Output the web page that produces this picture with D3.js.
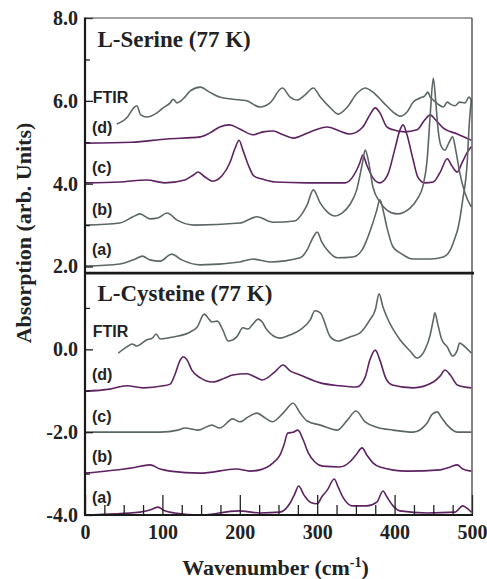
<!DOCTYPE html>
<html>
<head>
<meta charset="utf-8">
<script src="https://cdn.jsdelivr.net/npm/d3@7"></script>
<style>
  body { margin: 0; background: #fff; }
</style>
</head>
<body>
<div id="chart"></div>
<script>

// spectra: [wavenumber (cm-1), absorption]
var serineFTIR = [[41,5.44],[54,5.59],[63,5.83],[67,5.88],[72,5.66],[80,5.61],[93,5.71],[101,5.83],[110,5.95],[114,6.04],[119,5.95],[129,6.09],[136,6.24],[149,6.33],[161,6.21],[174,6.09],[191,6.04],[209,6.00],[226,5.85],[239,5.95],[255,6.31],[265,6.09],[274,6.02],[284,6.14],[295,6.31],[304,6.09],[317,5.83],[327,5.68],[339,5.85],[351,6.17],[362,6.31],[372,6.21],[385,5.97],[398,5.73],[407,5.63],[416,5.73],[424,5.97],[433,6.07],[439,6.12],[443,6.21],[446,6.09],[450,6.02],[456,5.92],[463,5.85],[468,5.97],[472,5.92],[478,5.88],[484,5.97],[491,5.95],[496,6.09],[499,6.02]];
var serineD = [[0,4.98],[60,5.00],[106,5.08],[149,5.13],[161,5.22],[174,5.37],[187,5.42],[200,5.32],[217,5.18],[230,5.25],[243,5.27],[256,5.18],[269,5.10],[291,5.25],[313,5.37],[329,5.27],[342,5.20],[359,5.37],[368,5.66],[375,5.83],[381,5.71],[390,5.37],[398,5.30],[413,5.25],[429,5.30],[439,5.54],[446,5.66],[453,5.54],[463,5.34],[481,5.20],[499,5.05]];
var serineC = [[0,4.02],[45,4.04],[80,4.09],[103,4.02],[129,4.09],[140,4.21],[146,4.28],[155,4.16],[165,4.06],[177,4.19],[187,4.50],[194,4.86],[199,5.05],[204,4.81],[211,4.45],[218,4.19],[229,4.11],[245,4.04],[287,4.02],[336,4.02],[345,4.14],[351,4.33],[355,4.50],[359,4.69],[364,4.45],[372,4.14],[381,4.02],[391,4.21],[400,4.81],[407,5.30],[411,5.42],[416,5.18],[424,4.57],[430,4.16],[439,4.02],[450,4.04],[459,4.28],[468,4.60],[474,4.43],[481,4.28],[487,4.50],[494,4.76],[499,4.89]];
var serineB = [[0,3.00],[45,3.05],[62,3.20],[71,3.27],[84,3.15],[94,3.17],[106,3.29],[119,3.12],[142,3.00],[200,3.05],[222,3.20],[243,3.07],[271,3.10],[282,3.32],[287,3.49],[295,3.85],[304,3.53],[313,3.32],[323,3.22],[332,3.29],[342,3.49],[351,3.85],[358,4.45],[362,4.81],[366,4.57],[372,3.92],[381,3.56],[390,3.36],[403,3.27],[420,3.41],[430,3.65],[437,3.97],[442,4.57],[446,5.66],[450,6.55],[453,6.02],[456,5.34],[460,4.91],[465,4.81],[470,4.98],[475,5.13],[479,4.81],[484,4.28],[491,3.77],[499,3.44]];
var serineA = [[0,2.01],[45,2.06],[65,2.18],[74,2.25],[84,2.16],[97,2.13],[112,2.30],[125,2.16],[149,2.04],[200,2.11],[217,2.18],[239,2.11],[278,2.21],[287,2.40],[293,2.64],[300,2.83],[306,2.59],[313,2.40],[326,2.21],[346,2.23],[358,2.40],[364,2.64],[371,3.00],[377,3.36],[381,3.61],[386,3.29],[390,2.95],[398,2.47],[407,2.33],[424,2.18],[446,2.18],[463,2.23],[472,2.40],[478,2.69],[482,2.93],[488,3.61],[494,4.57],[496,5.30],[499,6.02]];

var cysteineFTIR = [[43,-0.09],[54,0.06],[61,0.13],[67,0.08],[80,0.23],[87,0.27],[92,0.37],[97,0.25],[114,0.30],[136,0.42],[145,0.54],[154,0.85],[161,0.71],[164,0.66],[171,0.68],[178,0.47],[185,0.20],[196,0.30],[204,0.52],[211,0.49],[216,0.59],[224,0.73],[229,0.66],[235,0.47],[252,0.27],[265,0.35],[278,0.47],[291,0.71],[297,0.93],[304,0.88],[317,0.30],[327,0.20],[342,0.30],[355,0.39],[368,0.71],[375,0.95],[380,1.34],[385,1.02],[390,0.78],[407,0.23],[420,-0.04],[429,-0.21],[439,-0.02],[446,0.35],[450,0.71],[452,0.88],[456,0.59],[461,0.23],[468,0.06],[475,-0.16],[481,-0.02],[484,0.15],[491,0.06],[499,-0.09]];
var cysteineD = [[0,-1.01],[32,-0.96],[54,-0.88],[75,-0.93],[101,-0.88],[110,-0.84],[116,-0.62],[123,-0.26],[127,-0.18],[132,-0.26],[138,-0.50],[149,-0.69],[165,-0.79],[181,-0.69],[191,-0.62],[209,-0.59],[220,-0.67],[229,-0.74],[245,-0.55],[256,-0.38],[265,-0.52],[278,-0.62],[304,-0.81],[329,-0.88],[351,-0.91],[362,-0.67],[368,-0.26],[375,-0.02],[381,-0.26],[388,-0.67],[397,-0.86],[424,-0.93],[450,-0.79],[459,-0.64],[465,-0.50],[472,-0.62],[481,-0.86],[499,-0.93]];
var cysteineC = [[0,-2.00],[97,-2.00],[120,-1.95],[129,-1.90],[146,-1.95],[164,-1.83],[174,-1.90],[191,-1.68],[200,-1.75],[211,-1.63],[222,-1.54],[233,-1.66],[242,-1.75],[256,-1.54],[269,-1.30],[278,-1.54],[287,-1.73],[304,-1.83],[326,-1.95],[339,-1.71],[350,-1.49],[362,-1.75],[377,-1.88],[398,-1.95],[424,-2.00],[442,-1.78],[448,-1.58],[455,-1.51],[461,-1.66],[468,-1.83],[481,-2.00],[499,-2.00]];
var cysteineB = [[0,-2.99],[62,-2.86],[84,-2.79],[97,-2.89],[110,-2.94],[149,-2.99],[196,-2.89],[213,-2.94],[226,-2.91],[243,-2.74],[252,-2.55],[257,-2.31],[262,-2.02],[269,-2.00],[275,-1.95],[282,-2.19],[288,-2.48],[297,-2.72],[307,-2.82],[329,-2.84],[342,-2.72],[350,-2.55],[358,-2.38],[364,-2.55],[372,-2.74],[381,-2.84],[416,-2.94],[459,-2.91],[472,-2.84],[481,-2.79],[488,-2.89],[499,-2.94]];
var cysteineA = [[0,-4.00],[71,-3.93],[84,-3.88],[94,-3.81],[103,-3.90],[116,-3.95],[149,-4.00],[198,-3.90],[226,-3.95],[252,-3.93],[265,-3.71],[271,-3.49],[276,-3.30],[283,-3.52],[291,-3.69],[300,-3.73],[306,-3.56],[313,-3.40],[322,-3.13],[327,-3.32],[333,-3.56],[346,-3.78],[364,-3.78],[377,-3.69],[385,-3.42],[390,-3.56],[398,-3.78],[407,-3.90],[442,-3.95],[478,-3.93],[488,-3.78],[495,-3.86],[499,-3.93]];

var GRAY = "#5c6666", PURPLE = "#5d2260";

var series = [
	{data: serineFTIR, color: GRAY},
	{data: serineD, color: PURPLE},
	{data: serineC, color: PURPLE},
	{data: serineB, color: GRAY},
	{data: serineA, color: GRAY},
	{data: cysteineFTIR, color: GRAY},
	{data: cysteineD, color: PURPLE},
	{data: cysteineC, color: GRAY},
	{data: cysteineB, color: PURPLE},
	{data: cysteineA, color: PURPLE}
];

// curve labels: [text, wavenumber, absorption at baseline of text]
var curveLabels = [
	["FTIR", 10, 5.95], ["(d)", 9, 5.22], ["(c)", 9, 4.26], ["(b)", 9, 3.24], ["(a)", 9, 2.28],
	["FTIR", 10, 0.30], ["(d)", 9, -0.74], ["(c)", 9, -1.75], ["(b)", 9, -2.72], ["(a)", 9, -3.71]
];
var panelTitles = [["L-Serine (77 K)", 16, 7.30], ["L-Cysteine (77 K)", 16, 1.17]];
var splitAt = 1.84;	// where the two panels meet

var xMajor = [0, 100, 200, 300, 400, 500];
var xMinor = [25, 50, 75, 125, 150, 175, 225, 250, 275, 325, 350, 375, 425, 450, 475];
var yMajor = [-4, -2, 0, 2, 4, 6, 8];
var yMinor = [-3, -1, 1, 3, 5, 7];

var SERIF = "'Liberation Serif', serif";
var SANS = "'Liberation Sans', Arial, sans-serif";
var INK = "#222";

var W = 487, H = 579;
var margin = { top: 18, right: 15, bottom: 64, left: 85 },
	width = W - margin.left - margin.right,
	height = H - margin.top - margin.bottom;

var svg = d3.select("#chart").append("svg")
	.attr("width", W)
	.attr("height", H);

var g = svg.append("g")
	.attr("transform", "translate(" + margin.left + "," + margin.top + ")");

var x = d3.scaleLinear().domain([0, 500]).range([0, width]);
var y = d3.scaleLinear().domain([-4, 8]).range([height, 0]);

g.append("clipPath").attr("id", "clip")
	.append("rect").attr("width", width).attr("height", height);

// spectra
var line = d3.line()
	.x(function(d){ return x(d[0]); })
	.y(function(d){ return y(d[1]); })
	.curve(d3.curveMonotoneX);

g.append("g").attr("clip-path", "url(#clip)")
	.selectAll("path")
	.data(series).enter()
	.append("path")
		.attr("d", function(d){ return line(d.data); })
		.attr("fill", "none")
		.attr("stroke", function(d){ return d.color; })
		.attr("stroke-width", 1.6);

// axes
var xAxis = d3.axisBottom(x).tickValues(xMajor).tickSizeInner(-20).tickSizeOuter(0).tickPadding(10);
var xAxisMinor = d3.axisBottom(x).tickValues(xMinor).tickSizeInner(-10).tickSizeOuter(0).tickFormat("");
var yAxis = d3.axisLeft(y).tickValues(yMajor).tickSizeInner(-8).tickSizeOuter(0).tickPadding(7)
	.tickFormat(function(d){ return d.toFixed(1); });
var yAxisMinor = d3.axisLeft(y).tickValues(yMinor).tickSizeInner(-5).tickSizeOuter(0).tickFormat("");

[xAxis, xAxisMinor].forEach(function(a){
	g.append("g").attr("class", "x axis").attr("transform", "translate(0," + height + ")").call(a);
});
[yAxis, yAxisMinor].forEach(function(a){
	g.append("g").attr("class", "y axis").call(a);
});
g.selectAll(".axis .domain").remove();
g.selectAll(".axis").attr("font-family", SERIF).attr("font-size", 20).attr("font-weight", "bold");
g.selectAll(".axis line").attr("stroke", INK).attr("stroke-width", 1.3);
g.selectAll(".tick text")
	.attr("fill", INK)
	.style("font-family", SERIF)
	.style("font-weight", "bold")
	.style("font-size", "20px");

// frame
g.append("line").attr("x1", 0).attr("x2", width).attr("y1", 0).attr("y2", 0)
	.attr("stroke", "#444").attr("stroke-width", 1);
g.append("line").attr("x1", width).attr("x2", width).attr("y1", 0).attr("y2", height)
	.attr("stroke", "#333").attr("stroke-width", 1.2);
g.append("line").attr("x1", 0).attr("x2", 0).attr("y1", -0.5).attr("y2", height + 1)
	.attr("stroke", "#1a1a1a").attr("stroke-width", 2.2);
g.append("line").attr("x1", -1).attr("x2", width + 1).attr("y1", height).attr("y2", height)
	.attr("stroke", "#1a1a1a").attr("stroke-width", 2.2);
g.append("line").attr("x1", 0).attr("x2", width + 2).attr("y1", y(splitAt)).attr("y2", y(splitAt))
	.attr("stroke", "#1a1a1a").attr("stroke-width", 2.6);

// labels
g.selectAll("text.lbl")
	.data(curveLabels).enter()
	.append("text")
		.attr("class", "lbl")
		.attr("x", function(d){ return x(d[1]); })
		.attr("y", function(d){ return y(d[2]); })
		.attr("fill", INK)
		.style("font-family", SANS)
		.style("font-weight", "bold")
		.style("font-size", "16px")
		.text(function(d){ return d[0]; });

g.selectAll("text.ptitle")
	.data(panelTitles).enter()
	.append("text")
		.attr("class", "ptitle")
		.attr("x", function(d){ return x(d[1]); })
		.attr("y", function(d){ return y(d[2]); })
		.attr("fill", INK)
		.style("font-family", SERIF)
		.style("font-weight", "bold")
		.style("font-size", "23px")
		.text(function(d){ return d[0]; });

// axis titles
var xt = svg.append("text")
	.attr("x", margin.left + width / 2 - 3)
	.attr("y", 575)
	.attr("text-anchor", "middle")
	.attr("fill", INK)
	.style("font-family", SERIF)
	.style("font-weight", "bold")
	.style("font-size", "22px");
xt.append("tspan").text("Wavenumber (cm");
xt.append("tspan").attr("dy", -8).style("font-size", "14px").text("-1");
xt.append("tspan").attr("dy", 8).text(")");

svg.append("text")
	.attr("transform", "translate(31,233) rotate(-90)")
	.attr("text-anchor", "middle")
	.attr("fill", INK)
	.style("font-family", SERIF)
	.style("font-weight", "bold")
	.style("font-size", "22px")
	.text("Absorption (arb. Units)");

</script>
</body>
</html>
